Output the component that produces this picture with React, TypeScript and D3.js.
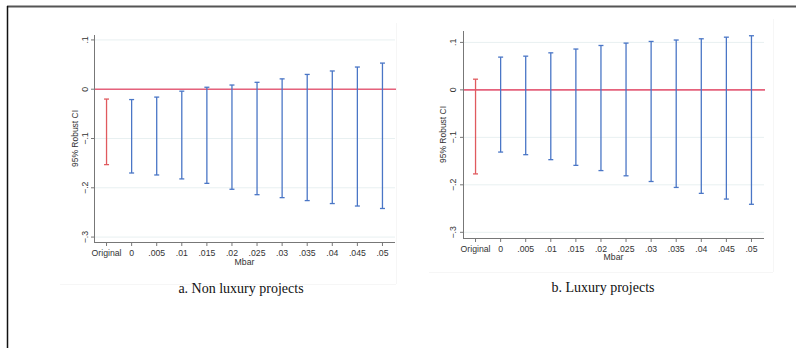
import React, { useEffect, useRef } from "react";
import * as d3 from "d3";

const categories = ["Original", "0", ".005", ".01", ".015", ".02", ".025", ".03", ".035", ".04", ".045", ".05"];
const yTicks = [0.1, 0, -0.1, -0.2, -0.3];

// a. Non luxury projects
const nonLuxLow = [-0.153, -0.17, -0.174, -0.182, -0.191, -0.203, -0.214, -0.22, -0.226, -0.232, -0.237, -0.242];
const nonLuxHigh = [-0.02, -0.021, -0.016, -0.004, 0.004, 0.0085, 0.014, 0.021, 0.03, 0.037, 0.045, 0.053];

// b. Luxury projects
const luxLow = [-0.177, -0.131, -0.1365, -0.147, -0.159, -0.17, -0.181, -0.193, -0.2055, -0.218, -0.23, -0.241];
const luxHigh = [0.0225, 0.069, 0.071, 0.078, 0.086, 0.0935, 0.0985, 0.102, 0.105, 0.1076, 0.111, 0.114];

const W = 796;
const H = 348;

const fmt = (v: number) => (v === 0 ? "0" : d3.format(".1f")(v).replace("0.", "."));

function App() {
  const svgRef = useRef<SVGSVGElement | null>(null);

  useEffect(() => {
    const svg = d3.select(svgRef.current);
    svg.selectAll("*").remove();

    // outer frame
    svg.append("line").attr("x1", 7).attr("x2", W).attr("y1", 6.5).attr("y2", 6.5)
      .attr("stroke", "#555").attr("stroke-width", 2);
    svg.append("line").attr("x1", 7.5).attr("x2", 7.5).attr("y1", 6).attr("y2", H)
      .attr("stroke", "#111").attr("stroke-width", 1.5);

    const panels = [
      {
        low: nonLuxLow, high: nonLuxHigh, x0: 94, x1: 395, yTop: 35, yBot: 242,
        dom: [-0.31, 0.11], tickX: 85, titleX: 75, tickLabY: 253, mbarY: 261.5,
        caption: "a. Non luxury projects", capX: 241, capY: 288,
        frame: { x0: 60, x1: 396, y1: 284 },
      },
      {
        low: luxLow, high: luxHigh, x0: 463, x1: 764, yTop: 31, yBot: 238,
        dom: [-0.312, 0.124], tickX: 453, titleX: 443, tickLabY: 249, mbarY: 256.5,
        caption: "b. Luxury projects", capX: 603, capY: 287,
        frame: { x0: 429, x1: 773, y1: 272 },
      },
    ];

    panels.forEach((p) => {
      const g = svg.append("g");
      const x = d3.scaleBand().domain(categories).range([p.x0, p.x1]).paddingInner(0).paddingOuter(0);
      const y = d3.scaleLinear().domain(p.dom).range([p.yBot, p.yTop]);
      const cx = (c: string) => (x(c) as number) + x.bandwidth() / 2;

      // faint graph region frame
      g.append("line").attr("x1", p.frame.x1 + 0.5).attr("x2", p.frame.x1 + 0.5)
        .attr("y1", p.yTop - 12).attr("y2", p.frame.y1).attr("stroke", "#f6f6f6");
      g.append("line").attr("x1", p.frame.x0).attr("x2", p.frame.x1).attr("y1", p.frame.y1 + 0.5)
        .attr("y2", p.frame.y1 + 0.5).attr("stroke", "#f6f6f6");

      // grid
      g.selectAll(".grid").data(yTicks).join("line")
        .attr("x1", p.x0).attr("x2", p.x1)
        .attr("y1", (d) => y(d)).attr("y2", (d) => y(d))
        .attr("stroke", "#e8f0f1").attr("stroke-width", 1);

      // zero line
      g.append("line").attr("x1", p.x0).attr("x2", p.x1 + 1)
        .attr("y1", y(0)).attr("y2", y(0))
        .attr("stroke", "#e6627c").attr("stroke-width", 1.6);

      // axes
      g.append("line").attr("x1", p.x0 + 0.5).attr("x2", p.x0 + 0.5)
        .attr("y1", p.yTop).attr("y2", p.yBot).attr("stroke", "#777").attr("stroke-width", 1);
      g.append("line").attr("x1", p.x0).attr("x2", p.x1)
        .attr("y1", p.yBot + 0.5).attr("y2", p.yBot + 0.5).attr("stroke", "#777").attr("stroke-width", 1);

      // y ticks and labels
      g.selectAll(".ytick").data(yTicks).join("line")
        .attr("x1", p.x0 - 3).attr("x2", p.x0)
        .attr("y1", (d) => y(d)).attr("y2", (d) => y(d))
        .attr("stroke", "#777");
      g.selectAll(".ylab").data(yTicks).join("text")
        .attr("transform", (d) => `translate(${p.tickX},${y(d)}) rotate(-90)`)
        .attr("text-anchor", "middle").attr("dominant-baseline", "central")
        .attr("font-family", "Liberation Sans, Arial, sans-serif").attr("font-size", 8.7)
        .attr("fill", "#333").text((d) => fmt(d));
      g.append("text")
        .attr("transform", `translate(${p.titleX},${(p.yTop + p.yBot) / 2}) rotate(-90)`)
        .attr("text-anchor", "middle").attr("dominant-baseline", "central")
        .attr("font-family", "Liberation Sans, Arial, sans-serif").attr("font-size", 8.5)
        .attr("fill", "#333").text("95% Robust CI");

      // x ticks and labels
      g.selectAll(".xtick").data(categories).join("line")
        .attr("x1", (d) => cx(d)).attr("x2", (d) => cx(d))
        .attr("y1", p.yBot).attr("y2", p.yBot + 4).attr("stroke", "#777");
      g.selectAll(".xlab").data(categories).join("text")
        .attr("x", (d) => cx(d)).attr("y", p.tickLabY)
        .attr("text-anchor", "middle").attr("dominant-baseline", "central")
        .attr("font-family", "Liberation Sans, Arial, sans-serif").attr("font-size", 8.7)
        .attr("fill", "#333").text((d) => d);
      g.append("text").attr("x", (p.x0 + p.x1) / 2).attr("y", p.mbarY)
        .attr("text-anchor", "middle").attr("dominant-baseline", "central")
        .attr("font-family", "Liberation Sans, Arial, sans-serif").attr("font-size", 8.7)
        .attr("fill", "#333").text("Mbar");

      // CI bars
      const rows = categories.map((c, i) => ({ c, lo: p.low[i], hi: p.high[i] }));
      const color = (d: { c: string }) => (d.c === "Original" ? "#e05a5e" : "#4a76c6");
      g.selectAll(".bar").data(rows).join("line")
        .attr("x1", (d) => cx(d.c)).attr("x2", (d) => cx(d.c))
        .attr("y1", (d) => y(d.lo)).attr("y2", (d) => y(d.hi))
        .attr("stroke", color).attr("stroke-width", 1.3);
      ["lo", "hi"].forEach((k) => {
        g.selectAll(`.cap-${k}`).data(rows).join("line")
          .attr("x1", (d) => cx(d.c) - 2.5).attr("x2", (d) => cx(d.c) + 2.5)
          .attr("y1", (d) => y((d as any)[k])).attr("y2", (d) => y((d as any)[k]))
          .attr("stroke", color).attr("stroke-width", 1.3);
      });

      // caption
      svg.append("text").attr("x", p.capX).attr("y", p.capY)
        .attr("text-anchor", "middle").attr("dominant-baseline", "central")
        .attr("font-family", "Liberation Serif, Times New Roman, serif").attr("font-size", 14)
        .attr("fill", "#111").text(p.caption);
    });
  }, []);

  return (
    <div style={{ position: "absolute", left: 0, top: 0 }}>
      <svg ref={svgRef} width={W} height={H} style={{ display: "block", background: "#fff" }}></svg>
    </div>
  );
}

export default App;
